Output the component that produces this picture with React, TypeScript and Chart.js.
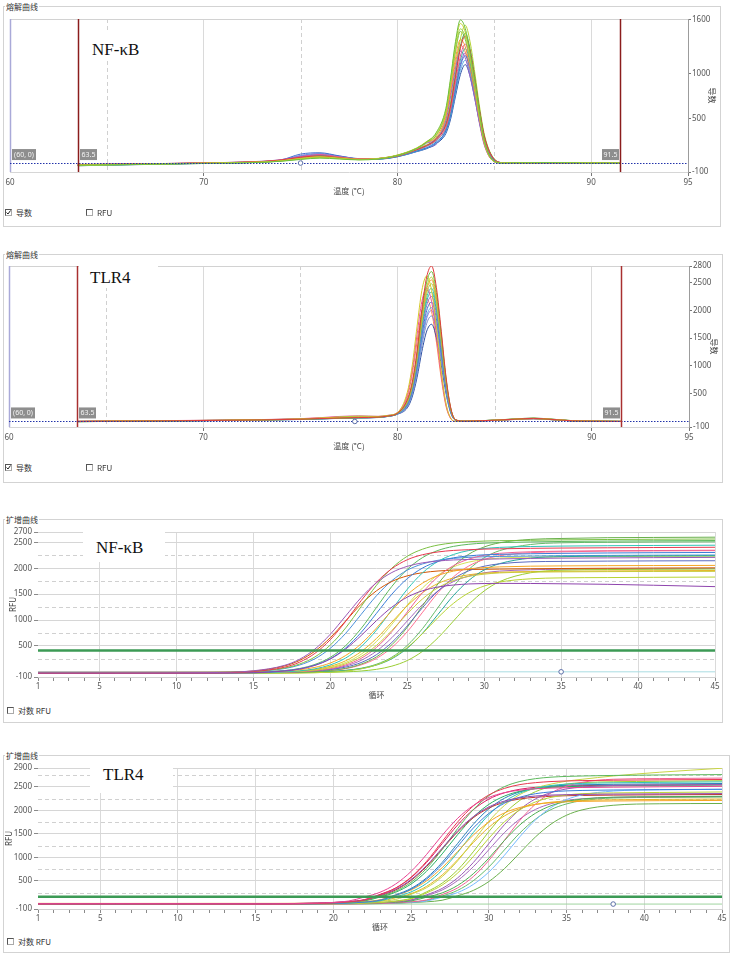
import React, { useEffect, useRef } from 'react';
import { Chart, registerables } from 'chart.js';
Chart.register(...registerables);

const FONT = "'Noto Sans', 'DejaVu Sans', sans-serif";
const CJK = "'Noto Sans CJK SC', 'Noto Sans', sans-serif";
const SERIF = "'Liberation Serif', 'Times New Roman', serif";

// ---------------- NF-κB melt curve (temperature, derivative) ----------------
const nfMeltTemps = [63.5, 65, 67, 69, 71, 73, 74, 75, 76, 77, 78, 79, 80, 81, 81.5, 82, 82.5, 82.75, 83, 83.25, 83.5, 83.75, 84, 84.25, 84.5, 85, 85.5, 86, 88, 90, 91.5];
const nfMeltCurves = [
  [-25, -20, -15, -8, -2, 8, 20, 40, 55, 45, 35, 45, 85, 165, 235, 340, 610, 960, 1360, 1600, 1505, 1230, 910, 545, 240, 20, 0, 2, 5, 0, 0],
  [-20, -18, -10, -5, 2, 12, 25, 50, 70, 55, 40, 50, 90, 170, 240, 330, 590, 935, 1325, 1560, 1465, 1200, 890, 530, 235, 18, 2, 0, 4, 2, 0],
  [-30, -22, -15, -6, 0, 10, 22, 45, 60, 50, 38, 48, 82, 160, 228, 315, 570, 900, 1275, 1500, 1410, 1155, 855, 510, 225, 18, 0, 3, 6, 1, 0],
  [-15, -12, -8, -2, 5, 18, 35, 65, 80, 60, 42, 48, 78, 150, 195, 265, 425, 640, 965, 1280, 1420, 1250, 925, 570, 285, 40, 3, 0, 3, 0, -2],
  [-25, -18, -12, -4, 3, 15, 30, 55, 75, 62, 45, 52, 88, 165, 232, 290, 525, 830, 1175, 1380, 1300, 1065, 785, 470, 205, 16, 0, 2, 5, 3, 0],
  [-20, -15, -10, -3, 4, 16, 32, 70, 95, 70, 48, 50, 80, 148, 190, 255, 400, 600, 905, 1195, 1330, 1170, 865, 530, 265, 40, 2, 0, 2, 0, 0],
  [-28, -22, -14, -7, 0, 10, 28, 60, 85, 65, 45, 46, 76, 142, 185, 250, 385, 575, 870, 1150, 1280, 1125, 830, 510, 255, 38, 0, 1, 4, 2, 0],
  [-18, -14, -8, -2, 6, 20, 38, 75, 90, 68, 44, 50, 84, 158, 222, 265, 475, 750, 1060, 1250, 1175, 965, 715, 425, 190, 15, 0, 3, 6, 2, 0],
  [-22, -20, -12, -5, 2, 14, 35, 100, 115, 80, 50, 48, 75, 135, 170, 235, 360, 540, 815, 1080, 1200, 1055, 780, 480, 240, 36, 0, 0, 3, 0, 0],
  [-26, -20, -14, -6, 1, 12, 30, 80, 100, 75, 48, 46, 72, 130, 165, 225, 345, 520, 780, 1035, 1150, 1010, 750, 460, 230, 35, 0, 2, 4, 1, 0],
  [-20, -16, -10, -4, 4, 16, 30, 58, 72, 56, 40, 50, 85, 155, 195, 275, 435, 650, 985, 1305, 1450, 1275, 945, 580, 290, 44, 3, 0, 5, 2, 0],
  [-30, -24, -16, -8, -1, 10, 26, 70, 90, 70, 45, 44, 70, 128, 160, 220, 330, 495, 750, 990, 1100, 970, 715, 440, 220, 33, 0, 1, 3, 0, 0],
  [-22, -18, -11, -5, 3, 14, 28, 52, 66, 52, 38, 48, 84, 158, 205, 262, 462, 693, 1047, 1386, 1540, 1355, 1001, 616, 308, 46, 2, 0, 4, 1, 0],
  [-24, -19, -13, -6, 1, 12, 26, 50, 68, 56, 42, 50, 86, 162, 230, 277, 502, 792, 1122, 1320, 1241, 1016, 752, 449, 198, 16, 0, 2, 4, 1, 0],
  [-18, -14, -9, -3, 4, 15, 30, 62, 80, 62, 44, 50, 86, 165, 232, 309, 559, 882, 1250, 1470, 1382, 1132, 838, 500, 221, 18, 0, 1, 5, 2, 0],
  [-26, -21, -13, -6, 2, 13, 30, 85, 105, 78, 48, 47, 74, 132, 168, 209, 369, 554, 836, 1107, 1230, 1082, 800, 492, 246, 37, 0, 2, 3, 0, 0],
];
const nfMeltColors = ['#6cbf3f', '#c5d22e', '#9bd04a', '#e23b3b', '#f29b38', '#e8559a', '#33b5a5', '#9a63c9', '#3f6fd1', '#5aa9e6', '#47a447', '#2c4fa3', '#b5d334', '#ff7f50', '#7ac143', '#8a6fd1'];
const nfMeltYTicks = [-100, 500, 1000, 1600];

// ---------------- TLR4 melt curve ----------------
const tlrMeltTemps = [63.5, 65, 67, 69, 71, 73, 75, 76, 77, 78, 79, 79.5, 80, 80.5, 80.75, 81, 81.25, 81.5, 81.75, 82, 82.25, 82.5, 82.75, 83, 83.5, 84, 85, 86, 87, 88, 89, 90, 91.5];
const tlrMeltCurves = [
  [0, 4, 8, 14, 20, 28, 40, 52, 62, 70, 78, 98, 150, 392, 700, 1260, 2016, 2604, 2800, 2408, 1624, 784, 224, 28, 5, 10, 22, 40, 55, 35, 12, 5, 0],
  [-5, 0, 6, 12, 18, 26, 38, 48, 58, 66, 75, 95, 145, 378, 675, 1215, 1944, 2511, 2700, 2322, 1566, 756, 216, 27, 4, 8, 20, 38, 52, 30, 10, 3, 0],
  [2, 6, 10, 16, 22, 32, 45, 60, 75, 80, 85, 105, 160, 524, 996, 1703, 2358, 2620, 2358, 1703, 917, 314, 52, 0, 3, 8, 25, 45, 60, 40, 14, 6, 2],
  [0, 5, 10, 15, 20, 30, 42, 55, 65, 72, 80, 100, 150, 357, 638, 1148, 1836, 2372, 2550, 2193, 1479, 714, 204, 26, 5, 10, 20, 35, 50, 32, 12, 4, 0],
  [-3, 2, 8, 12, 18, 28, 40, 58, 80, 95, 90, 108, 155, 347, 620, 1116, 1786, 2306, 2480, 2133, 1438, 694, 198, 25, 4, 9, 24, 42, 58, 38, 15, 6, 1],
  [3, 7, 12, 18, 24, 34, 50, 68, 90, 100, 92, 110, 162, 480, 912, 1560, 2160, 2400, 2160, 1560, 840, 288, 48, 0, 2, 7, 20, 36, 50, 30, 10, 3, 0],
  [0, 4, 9, 14, 20, 30, 40, 50, 60, 68, 76, 96, 145, 326, 583, 1049, 1678, 2167, 2330, 2004, 1351, 652, 186, 23, 4, 9, 22, 40, 56, 36, 12, 4, 0],
  [-2, 3, 8, 13, 19, 28, 38, 48, 58, 66, 74, 94, 142, 315, 563, 1013, 1620, 2093, 2250, 1935, 1305, 630, 180, 23, 3, 8, 20, 38, 52, 34, 11, 4, 0],
  [0, 5, 10, 15, 20, 30, 42, 54, 64, 72, 78, 96, 140, 301, 538, 968, 1548, 2000, 2150, 1849, 1247, 602, 172, 22, 5, 10, 24, 44, 60, 40, 14, 5, 0],
  [-4, 0, 5, 10, 16, 24, 35, 45, 55, 62, 70, 90, 135, 287, 513, 923, 1476, 1907, 2050, 1763, 1189, 574, 164, 21, 3, 7, 18, 34, 48, 30, 10, 3, 0],
  [1, 6, 11, 16, 22, 32, 44, 56, 66, 74, 80, 98, 140, 266, 475, 855, 1368, 1767, 1900, 1634, 1102, 532, 152, 19, 4, 9, 22, 40, 55, 36, 12, 4, 0],
  [-2, 2, 7, 12, 18, 26, 36, 46, 56, 64, 72, 90, 130, 245, 438, 788, 1260, 1628, 1750, 1505, 1015, 490, 140, 18, 3, 8, 20, 38, 50, 32, 11, 3, 0],
  [-4, 1, 6, 12, 18, 26, 37, 48, 58, 66, 74, 94, 144, 364, 650, 1170, 1872, 2418, 2600, 2236, 1508, 728, 208, 26, 4, 9, 22, 40, 54, 34, 12, 4, 0],
  [1, 5, 10, 15, 21, 31, 46, 62, 82, 92, 88, 104, 150, 440, 836, 1430, 1980, 2200, 1980, 1430, 770, 264, 44, 0, 2, 7, 20, 38, 52, 33, 11, 4, 0],
  [0, 4, 9, 14, 20, 29, 41, 52, 62, 70, 78, 97, 146, 336, 600, 1080, 1728, 2232, 2400, 2064, 1392, 672, 192, 24, 4, 9, 23, 42, 57, 36, 12, 4, 0],
  [-3, 1, 6, 11, 17, 25, 36, 47, 57, 64, 72, 92, 136, 280, 500, 900, 1440, 1860, 2000, 1720, 1160, 560, 160, 20, 3, 8, 20, 37, 50, 32, 11, 3, 0],
];
const tlrMeltColors = ['#e23b3b', '#6cbf3f', '#d6c92a', '#f29b38', '#9bd04a', '#e8559a', '#33b5a5', '#9a63c9', '#3f6fd1', '#5aa9e6', '#7a8fc9', '#2c4fa3', '#b8d433', '#ff7f50', '#2ec4b6', '#8a6fd1'];
const tlrMeltYTicks = [-100, 500, 1000, 1500, 2000, 2500, 2800];

const meltXTicks = [60, 65, 70, 75, 80, 85, 90, 95];
const meltXLabels = [60, 70, 80, 90, 95];
const meltXGrid = [70, 80, 90];
const meltXDashed = [65, 75, 85];
const meltMarkers = [63.5, 91.5];

// ---------------- NF-κB amplification ----------------
const nfAmpCycles = [1, 6, 12, 15, 17, 18, 19, 20, 21, 22, 23, 24, 25, 26, 27, 28, 29, 30, 31, 33, 35, 38, 41, 45];
const nfAmpCurves = [
  [-20, -20, -15, 20, 123, 242, 440, 726, 1080, 1434, 1720, 1918, 2037, 2105, 2140, 2160, 2170, 2175, 2180, 2190, 2195, 2200, 2205, 2210],
  [-25, -24, -20, 6, 88, 186, 357, 621, 976, 1374, 1729, 1993, 2164, 2262, 2315, 2344, 2358, 2370, 2375, 2385, 2390, 2395, 2400, 2405],
  [-15, -14, -12, 9, 72, 151, 288, 518, 849, 1260, 1671, 2002, 2232, 2369, 2448, 2489, 2512, 2525, 2532, 2540, 2548, 2555, 2560, 2565],
  [-30, -30, -27, -18, 14, 52, 124, 248, 441, 700, 990, 1249, 1442, 1566, 1638, 1676, 1697, 1705, 1708, 1706, 1700, 1690, 1672, 1645],
  [-20, -19, -16, -9, 21, 58, 130, 254, 461, 760, 1130, 1500, 1799, 2006, 2131, 2202, 2239, 2259, 2268, 2280, 2288, 2295, 2300, 2305],
  [-10, -9, -8, -3, 17, 41, 86, 170, 316, 541, 845, 1185, 1489, 1714, 1860, 1944, 1989, 2013, 2026, 2040, 2045, 2050, 2052, 2055],
  [-25, -24, -22, -19, -2, 19, 58, 134, 267, 487, 806, 1200, 1594, 1913, 2133, 2266, 2342, 2381, 2403, 2420, 2428, 2435, 2440, 2445],
  [-15, -14, -13, -12, -2, 10, 34, 77, 157, 295, 510, 798, 1122, 1410, 1625, 1763, 1843, 1886, 1910, 1925, 1930, 1935, 1938, 1940],
  [-20, -20, -18, -17, -9, 2, 22, 60, 133, 260, 471, 777, 1155, 1533, 1839, 2050, 2177, 2250, 2288, 2318, 2330, 2338, 2342, 2348],
  [-10, -10, -9, -8, -2, 4, 18, 44, 91, 179, 332, 568, 887, 1243, 1562, 1798, 1951, 2039, 2086, 2125, 2132, 2138, 2142, 2145],
  [-20, -21, -19, -18, -13, -8, 4, 27, 68, 149, 289, 523, 861, 1280, 1699, 2037, 2271, 2411, 2492, 2557, 2575, 2590, 2595, 2600],
  [-30, -29, -30, -28, -27, -24, -18, -6, 16, 57, 133, 264, 468, 741, 1049, 1322, 1526, 1657, 1733, 1796, 1814, 1820, 1825, 1830],
  [-15, -15, -14, -14, -14, -9, -4, 6, 26, 62, 131, 253, 455, 748, 1110, 1472, 1765, 1967, 2089, 2195, 2224, 2232, 2238, 2242],
  [-20, -20, -19, -20, -20, -18, -15, -10, -1, 16, 48, 110, 218, 398, 658, 980, 1302, 1562, 1742, 1912, 1962, 1975, 1980, 1985],
  [-15, -15, -12, 15, 112, 220, 400, 660, 983, 1305, 1565, 1745, 1853, 1915, 1947, 1965, 1975, 1980, 1984, 1990, 1995, 2000, 2004, 2008],
  [-20, -19, -16, 5, 62, 131, 252, 455, 745, 1108, 1470, 1760, 1963, 2084, 2154, 2190, 2210, 2222, 2228, 2235, 2242, 2248, 2252, 2256],
  [-18, -17, -15, -8, 24, 64, 143, 280, 507, 836, 1243, 1650, 1979, 2207, 2344, 2422, 2463, 2485, 2495, 2508, 2517, 2525, 2530, 2535],
  [-15, -15, -14, -12, 0, 15, 46, 107, 214, 390, 645, 960, 1275, 1530, 1706, 1813, 1874, 1905, 1922, 1936, 1942, 1948, 1952, 1956],
  [-10, -10, -9, -9, -4, 3, 19, 51, 113, 221, 400, 660, 982, 1303, 1563, 1742, 1850, 1912, 1945, 1970, 1980, 1987, 1991, 1996],
  [-15, -16, -15, -14, -11, -6, 4, 24, 61, 134, 260, 471, 775, 1152, 1529, 1833, 2044, 2170, 2243, 2301, 2317, 2331, 2335, 2340],
  [-20, -20, -19, -19, -18, -12, -6, 7, 29, 69, 147, 283, 510, 838, 1243, 1649, 1977, 2203, 2340, 2458, 2491, 2500, 2507, 2511],
  [-20, -19, -18, -17, -5, 11, 39, 89, 181, 339, 587, 918, 1290, 1622, 1869, 2027, 2119, 2169, 2197, 2214, 2220, 2225, 2229, 2231],
];
const nfAmpColors = ['#9b59b6', '#e8384f', '#7bc043', '#8e44ad', '#3b7dd8', '#f5a623', '#2ec4b6', '#c9c93a', '#f06292', '#5c6bc0', '#6ab04c', '#b8d433', '#26a69a', '#9acd32', '#d35400', '#4a90d9', '#5cb85c', '#e6b422', '#a569bd', '#ff6f91', '#66bb6a', '#d4e157'];
const nfAmpYTicks = [-100, 500, 1000, 1500, 2000, 2500, 2700];
const nfAmpDashed = [250, 750, 1250, 1750, 2250];
const nfThreshold = 410;
const nfBaseline = 0;

// ---------------- TLR4 amplification ----------------
const tlrAmpCycles = [1, 6, 12, 16, 19, 21, 22, 23, 24, 25, 26, 27, 28, 29, 30, 31, 32, 33, 34, 35, 36, 38, 41, 45];
const tlrAmpCurves = [
  [10, 12, 10, 8, 26, 71, 155, 256, 430, 699, 1062, 1468, 1831, 2100, 2274, 2375, 2429, 2458, 2473, 2480, 2485, 2492, 2500, 2510],
  [5, 6, 5, 4, 17, 52, 93, 204, 344, 578, 916, 1335, 1754, 2092, 2326, 2466, 2547, 2588, 2612, 2625, 2632, 2640, 2648, 2655],
  [15, 14, 16, 15, 26, 56, 93, 195, 319, 526, 825, 1195, 1565, 1864, 2071, 2196, 2267, 2304, 2324, 2332, 2338, 2345, 2350, 2355],
  [10, 11, 9, 10, 19, 45, 78, 167, 278, 469, 766, 1166, 1614, 2014, 2311, 2502, 2613, 2673, 2705, 2721, 2730, 2742, 2752, 2760],
  [5, 5, 4, 5, 11, 27, 48, 87, 191, 321, 537, 849, 1235, 1621, 1933, 2149, 2279, 2353, 2392, 2413, 2422, 2432, 2440, 2448],
  [20, 19, 20, 20, 25, 40, 59, 93, 190, 306, 499, 779, 1125, 1471, 1751, 1944, 2060, 2127, 2161, 2181, 2190, 2198, 2205, 2210],
  [10, 10, 11, 10, 15, 27, 43, 74, 160, 264, 445, 726, 1103, 1527, 1904, 2185, 2366, 2470, 2526, 2557, 2572, 2585, 2595, 2605],
  [15, 16, 15, 14, 18, 27, 39, 62, 103, 214, 354, 588, 926, 1345, 1764, 2102, 2336, 2476, 2557, 2620, 2660, 2730, 2810, 2895],
  [5, 6, 5, 5, 8, 13, 21, 36, 64, 115, 242, 409, 667, 1015, 1405, 1753, 2011, 2178, 2275, 2326, 2354, 2370, 2380, 2390],
  [10, 10, 9, 10, 12, 16, 22, 33, 55, 95, 203, 338, 563, 888, 1290, 1693, 2018, 2243, 2378, 2455, 2495, 2528, 2538, 2548],
  [15, 15, 14, 15, 16, 19, 23, 30, 44, 71, 151, 243, 403, 650, 983, 1357, 1690, 1937, 2097, 2189, 2239, 2279, 2290, 2298],
  [5, 5, 6, 5, 6, 8, 12, 18, 30, 53, 95, 207, 350, 589, 933, 1360, 1787, 2131, 2370, 2513, 2595, 2661, 2675, 2685],
  [10, 10, 10, 11, 10, 12, 14, 18, 26, 41, 70, 153, 251, 422, 686, 1041, 1439, 1794, 2058, 2229, 2327, 2409, 2435, 2445],
  [15, 14, 15, 15, 14, 15, 18, 20, 25, 35, 53, 86, 182, 295, 484, 757, 1095, 1433, 1706, 1895, 2009, 2107, 2139, 2145],
  [5, 6, 5, 4, 15, 46, 82, 180, 303, 509, 806, 1175, 1544, 1841, 2047, 2170, 2241, 2277, 2299, 2310, 2316, 2323, 2330, 2336],
  [10, 11, 9, 10, 17, 41, 72, 154, 256, 431, 705, 1073, 1485, 1853, 2126, 2302, 2404, 2459, 2489, 2503, 2512, 2523, 2532, 2539],
  [5, 5, 4, 5, 12, 28, 50, 91, 201, 337, 564, 891, 1297, 1702, 2030, 2256, 2393, 2471, 2512, 2534, 2543, 2554, 2562, 2570],
  [10, 10, 11, 10, 13, 23, 37, 64, 138, 227, 383, 624, 949, 1313, 1637, 1879, 2035, 2124, 2172, 2199, 2212, 2223, 2232, 2240],
  [5, 6, 5, 5, 9, 14, 23, 40, 70, 127, 266, 450, 734, 1117, 1546, 1928, 2212, 2396, 2503, 2559, 2589, 2607, 2618, 2629],
  [10, 10, 9, 10, 11, 14, 20, 30, 50, 86, 183, 304, 507, 799, 1161, 1524, 1816, 2019, 2140, 2210, 2246, 2275, 2284, 2293],
  [5, 5, 6, 5, 6, 7, 10, 15, 26, 45, 81, 176, 298, 501, 793, 1156, 1519, 1811, 2015, 2136, 2206, 2262, 2274, 2282],
  [15, 14, 16, 15, 28, 60, 100, 211, 345, 568, 891, 1291, 1690, 2013, 2237, 2372, 2448, 2488, 2510, 2519, 2525, 2533, 2538, 2543],
];
const tlrAmpColors = ['#e84393', '#e8384f', '#8e44ad', '#5cb85c', '#3b7dd8', '#f5a623', '#2ec4b6', '#c8d444', '#b8d433', '#9b59b6', '#4caf50', '#f06292', '#74b9ff', '#6ab04c', '#c0392b', '#27ae60', '#2980b9', '#e6b422', '#9acd32', '#a569bd', '#66bb6a', '#d81b60'];
const tlrAmpYTicks = [-100, 500, 1000, 1500, 2000, 2500, 2900];
const tlrAmpDashed = [250, 750, 1250, 1750, 2250, 2750];
const tlrThreshold = 160;
const tlrBaseline = 5;

const ampXLabels = [1, 5, 10, 15, 20, 25, 30, 35, 40, 45];
const ampXTicks = Array.from({ length: 45 }, (_, i) => i + 1);

// ---------------- decoration plugin (uses chart scales) ----------------
const decorPlugin = {
  id: 'decor',
  beforeDatasetsDraw(chart: any, _a: any, o: any) {
    const { ctx, chartArea: a, scales } = chart;
    const x = scales.x, y = scales.y;
    ctx.save();
    ctx.lineWidth = 1;
    ctx.strokeStyle = '#d0d0d0';
    ctx.setLineDash([4, 3]);
    (o.dashX || []).forEach((v: number) => {
      const p = Math.round(x.getPixelForValue(v)) + 0.5;
      ctx.beginPath(); ctx.moveTo(p, a.top); ctx.lineTo(p, a.bottom); ctx.stroke();
    });
    (o.dashY || []).forEach((v: number) => {
      const p = Math.round(y.getPixelForValue(v)) + 0.5;
      ctx.beginPath(); ctx.moveTo(a.left, p); ctx.lineTo(a.right, p); ctx.stroke();
    });
    ctx.setLineDash([]);
    if (o.topBorder) {
      ctx.strokeStyle = o.topBorder;
      const p = Math.round(a.top) + 0.5;
      ctx.beginPath(); ctx.moveTo(a.left, p); ctx.lineTo(a.right, p); ctx.stroke();
    }
    if (o.leftLine) {
      ctx.strokeStyle = o.leftLine; ctx.lineWidth = 1.5;
      const p = x.getPixelForValue(x.min) + 0.5;
      ctx.beginPath(); ctx.moveTo(p, a.top); ctx.lineTo(p, a.bottom); ctx.stroke();
    }
    ctx.restore();
  },
  afterDatasetsDraw(chart: any, _a: any, o: any) {
    const { ctx, chartArea: a, scales } = chart;
    const x = scales.x, y = scales.y;
    ctx.save();
    if (o.zeroLine) {
      const p = Math.round(y.getPixelForValue(0)) + 0.5;
      ctx.strokeStyle = o.zeroLine; ctx.lineWidth = 1; ctx.setLineDash([1.5, 1.5]);
      ctx.beginPath(); ctx.moveTo(a.left, p); ctx.lineTo(a.right, p); ctx.stroke();
      ctx.setLineDash([]);
    }
    const y0 = y.getPixelForValue(0);
    const box = (bx: number, w: number, text: string) => {
      ctx.fillStyle = '#8e8e8e';
      ctx.fillRect(bx, y0 - 14, w, 11);
      ctx.fillStyle = '#f4f4f4';
      ctx.font = `7px ${FONT}`;
      ctx.textAlign = 'center'; ctx.textBaseline = 'middle';
      ctx.fillText(text, bx + w / 2, y0 - 8.5);
    };
    if (o.markers) {
      o.markers.forEach((v: number, i: number) => {
        const p = Math.round(x.getPixelForValue(v)) + 0.5;
        ctx.strokeStyle = o.markerColor; ctx.lineWidth = 1.5;
        ctx.beginPath(); ctx.moveTo(p, a.top); ctx.lineTo(p, a.bottom); ctx.stroke();
        if (i === 0) box(p + 1.5, 17, String(v)); else box(p - 18.5, 17, String(v));
      });
    }
    if (o.origin) box(a.left + 2, 24, o.origin);
    if (o.circle) {
      const cx = x.getPixelForValue(o.circle[0]);
      const cy = y.getPixelForValue(o.circle[1]);
      ctx.strokeStyle = '#5b6fa8'; ctx.fillStyle = '#ffffff'; ctx.lineWidth = 1;
      ctx.beginPath(); ctx.arc(cx, cy, 2.3, 0, Math.PI * 2); ctx.fill(); ctx.stroke();
    }
    ctx.restore();
  },
};

const tickFont = { size: 8, family: FONT };
const CLEAR = 'rgba(0,0,0,0)';
const plainLabel = (v: any) => String(v);

function meltConfig(temps: number[], curves: number[][], colors: string[], yTicks: number[], yMax: number, padLeft: number, yWidth: number, titlePad: number, markerColor: string, circleX: number) {
  return {
    type: 'line',
    data: {
      datasets: curves.map((c, i) => ({
        data: temps.map((t, j) => ({ x: t, y: c[j] })),
        borderColor: colors[i % colors.length],
        borderWidth: 1,
        pointRadius: 0,
        fill: false,
        cubicInterpolationMode: 'monotone',
      })),
    },
    options: {
      responsive: false,
      animation: false,
      events: [],
      layout: { padding: { left: padLeft, top: 8, right: 0, bottom: 0 } },
      plugins: {
        legend: { display: false },
        tooltip: { enabled: false },
        decor: {
          dashX: meltXDashed,
          topBorder: '#d2d2d2',
          leftLine: '#a9a9d8',
          zeroLine: '#2233aa',
          markers: meltMarkers,
          markerColor,
          origin: '(60, 0)',
          circle: [circleX, 0],
        },
      },
      scales: {
        x: {
          type: 'linear', min: 60, max: 95,
          afterBuildTicks: (s: any) => { s.ticks = meltXTicks.map((v) => ({ value: v })); },
          afterFit: (s: any) => { s.height = 24; },
          ticks: { autoSkip: false, maxRotation: 0, padding: 2, font: tickFont, color: '#555', callback: (v: any) => (meltXLabels.includes(v) ? String(v) : '') },
          grid: {
            color: (c: any) => (c.tick && meltXGrid.includes(c.tick.value) ? '#dadada' : CLEAR),
            tickLength: 4,
            tickColor: (c: any) => (c.tick && meltXLabels.includes(c.tick.value) && c.tick.value !== 60 ? '#777' : CLEAR),
          },
          border: { color: '#d6d6d6' },
          title: { display: true, text: '温度 (°C)', font: { size: 8, family: CJK }, color: '#444', padding: 0 },
        },
        y: {
          type: 'linear', position: 'right', min: -100, max: yMax,
          afterBuildTicks: (s: any) => { s.ticks = yTicks.map((v) => ({ value: v })); },
          afterFit: (s: any) => { s.width = yWidth; },
          ticks: { autoSkip: false, padding: 1, font: tickFont, color: '#555', callback: plainLabel },
          grid: { drawOnChartArea: false, tickLength: 3, tickColor: '#777' },
          border: { color: '#9c9c9c' },
          title: { display: true, text: '导数', font: { size: 8, family: CJK }, color: '#444', padding: { top: titlePad, bottom: 0 } },
        },
      },
    },
  };
}

function ampConfig(cycles: number[], curves: number[][], colors: string[], yTicks: number[], yMax: number, dashed: number[], thr: number, base: number, circleX: number, baseColor: string, titlePad: number, padRight: number) {
  const ds: any[] = curves.map((c, i) => ({
    data: cycles.map((t, j) => ({ x: t, y: c[j] })),
    borderColor: colors[i % colors.length],
    borderWidth: 1,
    pointRadius: 0,
    fill: false,
    cubicInterpolationMode: 'monotone',
    order: 2,
  }));
  ds.push({ data: [{ x: 1, y: base }, { x: 45, y: base }], borderColor: baseColor, borderWidth: 1, pointRadius: 0, order: 3 });
  ds.push({ data: [{ x: 1, y: thr }, { x: 45, y: thr }], borderColor: '#3c9a55', borderWidth: 2.5, pointRadius: 0, order: 0 });
  return {
    type: 'line',
    data: { datasets: ds },
    options: {
      responsive: false,
      animation: false,
      events: [],
      layout: { padding: { left: 0, top: 8, right: padRight, bottom: 0 } },
      plugins: {
        legend: { display: false },
        tooltip: { enabled: false },
        decor: { dashY: dashed, circle: [circleX, base] },
      },
      scales: {
        x: {
          type: 'linear', min: 1, max: 45,
          afterBuildTicks: (s: any) => { s.ticks = ampXTicks.map((v) => ({ value: v })); },
          afterFit: (s: any) => { s.height = 23; },
          ticks: { autoSkip: false, maxRotation: 0, padding: 1, font: tickFont, color: '#555', callback: (v: any) => (ampXLabels.includes(v) ? String(v) : '') },
          grid: {
            color: (c: any) => (c.tick && c.tick.value % 5 === 0 ? '#dadada' : CLEAR),
            tickLength: 4,
            tickColor: '#8a8a8a',
          },
          border: { color: '#d0d0d0' },
          title: { display: true, text: '循环', font: { size: 8, family: CJK }, color: '#444', padding: 0 },
        },
        y: {
          type: 'linear', position: 'left', min: -100, max: yMax,
          afterBuildTicks: (s: any) => { s.ticks = yTicks.map((v) => ({ value: v })); },
          afterFit: (s: any) => { s.width = 38; },
          ticks: { autoSkip: false, padding: 2, font: tickFont, color: '#555', callback: plainLabel },
          grid: { color: (c: any) => (c.tick && c.tick.value === -100 ? CLEAR : '#d6d6d6'), tickLength: 4, tickColor: '#8a8a8a' },
          border: { display: false },
          title: { display: true, text: 'RFU', font: { size: 8, family: FONT }, color: '#444', padding: { top: titlePad, bottom: 0 } },
        },
      },
    },
  };
}

function ChartCanvas({ left, top, width, height, build }: any) {
  const ref = useRef<HTMLCanvasElement>(null);
  useEffect(() => {
    const chart = new Chart(ref.current as HTMLCanvasElement, { ...build(), plugins: [decorPlugin] } as any);
    return () => chart.destroy();
  }, []);
  return <canvas ref={ref} width={width} height={height} style={{ position: 'absolute', left, top, width, height }} />;
}

function Panel({ left, top, width, height, title }: any) {
  return (
    <div style={{ position: 'absolute', left, top, width, height, border: '1px solid #d3d3d3', boxSizing: 'border-box' }}>
      <span style={{ position: 'absolute', left: 1, top: -6, background: '#fff', padding: '0 1px', font: `8px ${CJK}`, lineHeight: '11px', color: '#333', whiteSpace: 'nowrap' }}>{title}</span>
    </div>
  );
}

function Check({ left, top, checked, label }: any) {
  return (
    <div style={{ position: 'absolute', left, top, height: 9, display: 'flex', alignItems: 'center', font: `8px ${CJK}`, color: '#333', whiteSpace: 'nowrap' }}>
      <span style={{ boxSizing: 'border-box', width: 7, height: 7, border: '1px solid #555', borderRightColor: '#aaa', borderBottomColor: '#aaa', background: '#fff', marginRight: 4, position: 'relative', display: 'inline-block' }}>
        {checked ? (
          <svg width="5" height="5" style={{ position: 'absolute', left: 0, top: 0 }}>
            <path d="M0.5 2.5 L2 4 L4.5 0.5" stroke="#222" fill="none" strokeWidth="1" />
          </svg>
        ) : null}
      </span>
      <span>{label}</span>
    </div>
  );
}

function Tag({ text, left, top, box }: any) {
  return (
    <>
      <div style={{ position: 'absolute', left: box[0], top: box[1], width: box[2], height: box[3], background: '#fff' }} />
      <div style={{ position: 'absolute', left, top, font: `17px ${SERIF}`, lineHeight: '17px', color: '#111', whiteSpace: 'nowrap' }}>{text}</div>
    </>
  );
}

export default function App() {
  return (
    <div style={{ position: 'absolute', left: 0, top: 0, width: 732, height: 953, background: '#fff', overflow: 'hidden' }}>
      <Panel left={3} top={6} width={718} height={221} title="熔解曲线" />
      <Panel left={3} top={254} width={720} height={229} title="熔解曲线" />
      <Panel left={3} top={519} width={720} height={204} title="扩增曲线" />
      <Panel left={3} top={755} width={727} height={198} title="扩增曲线" />

      <ChartCanvas left={0} top={11} width={724} height={185}
        build={() => meltConfig(nfMeltTemps, nfMeltCurves, nfMeltColors, nfMeltYTicks, 1610, 10, 36, 7, '#8b1c1c', 75)} />
      <ChartCanvas left={0} top={258} width={724} height={193}
        build={() => meltConfig(tlrMeltTemps, tlrMeltCurves, tlrMeltColors, tlrMeltYTicks, 2800, 9, 35, 5, '#a83030', 77.8)} />
      <ChartCanvas left={0} top={524} width={722} height={176}
        build={() => ampConfig(nfAmpCycles, nfAmpCurves, nfAmpColors, nfAmpYTicks, 2700, nfAmpDashed, nfThreshold, nfBaseline, 35, '#a9dde2', 9, 7)} />
      <ChartCanvas left={0} top={760} width={730} height={172}
        build={() => ampConfig(tlrAmpCycles, tlrAmpCurves, tlrAmpColors, tlrAmpYTicks, 2900, tlrAmpDashed, tlrThreshold, tlrBaseline, 38, '#9fd49f', 5, 8)} />

      <Tag text="NF-κB" left={92} top={41} box={[86, 30, 56, 31]} />
      <Tag text="TLR4" left={90} top={269} box={[79, 262, 79, 26]} />
      <Tag text="NF-κB" left={96} top={539} box={[83, 526, 82, 36]} />
      <Tag text="TLR4" left={103} top={766} box={[90, 760, 83, 33]} />

      <Check left={5} top={208} checked label="导数" />
      <Check left={86} top={208} label="RFU" />
      <Check left={5} top={463} checked label="导数" />
      <Check left={86} top={463} label="RFU" />
      <Check left={7} top={706} label="对数 RFU" />
      <Check left={7} top={937} label="对数 RFU" />
    </div>
  );
}
